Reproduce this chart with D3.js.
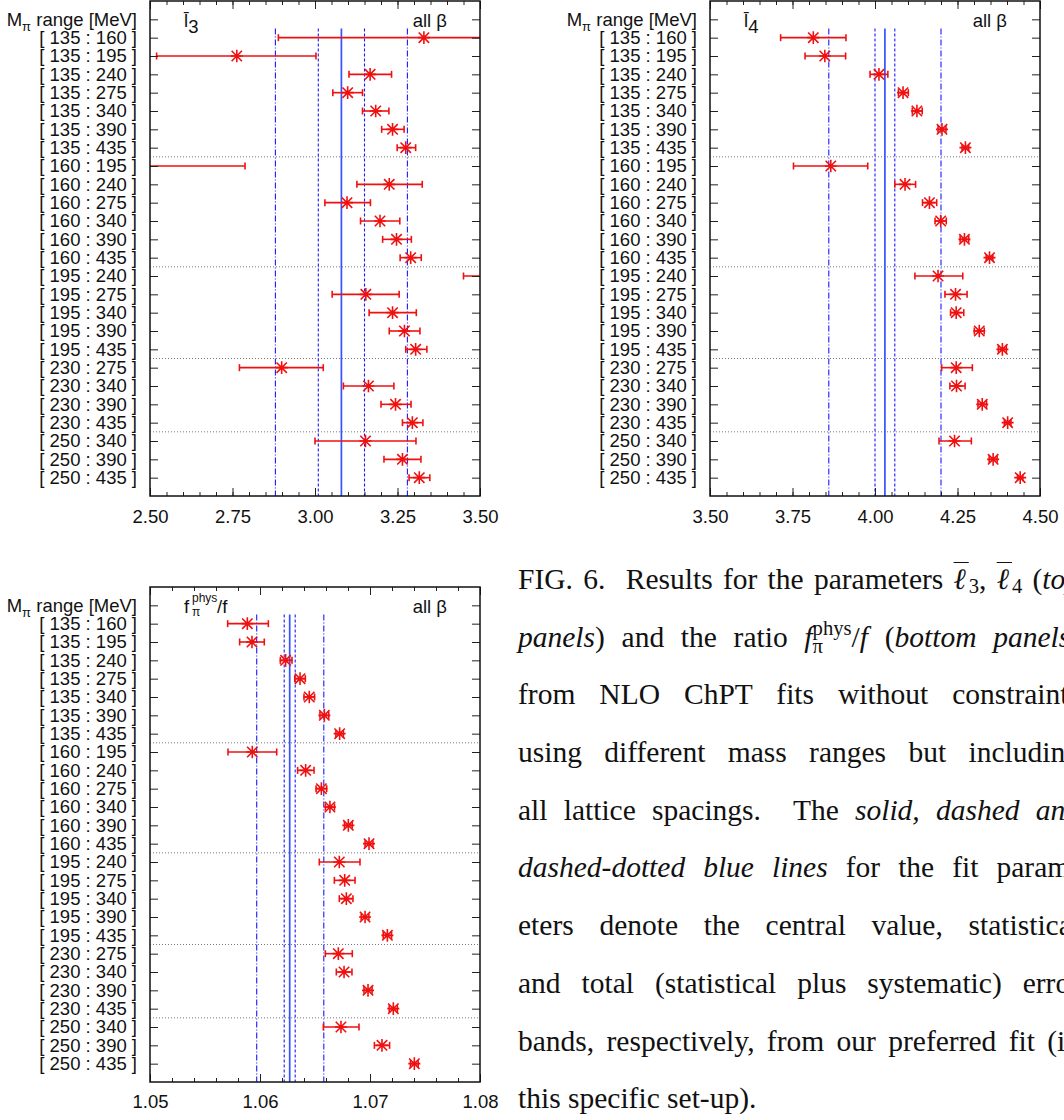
<!DOCTYPE html>
<html>
<head>
<meta charset="utf-8">
<script src="https://cdn.jsdelivr.net/npm/d3@7"></script>
<style>
  body { margin: 0; width: 1064px; height: 1120px; overflow: hidden; background: #fff; position: relative; }
  svg { position: absolute; left: 0; top: 0; }
  #caption { position: absolute; left: 518px; top: 551px; font-family: "Liberation Serif", serif; font-size: 29.5px; color: #111; }
  #caption .ln { width: 562px; height: 57.7px; line-height: 57.7px; text-align: justify; text-align-last: justify; }
  #caption .last { text-align: left; text-align-last: left; }
  .lb { text-decoration: overline; text-decoration-thickness: 1px; }
  .sb { font-size: 0.7em; vertical-align: -0.2em; line-height: 1; }
  .up { font-size: 0.7em; vertical-align: 0.58em; line-height: 1; }
  .dn { display: inline-block; width: 0; font-size: 0.7em; vertical-align: -0.32em; line-height: 1; }
</style>
</head>
<body>
<div id="caption"></div>
<script>
// row labels (pion mass ranges used in the fits)
const ranges = [
  '[ 135 : 160 ]', '[ 135 : 195 ]', '[ 135 : 240 ]', '[ 135 : 275 ]', '[ 135 : 340 ]', '[ 135 : 390 ]', '[ 135 : 435 ]',
  '[ 160 : 195 ]', '[ 160 : 240 ]', '[ 160 : 275 ]', '[ 160 : 340 ]', '[ 160 : 390 ]', '[ 160 : 435 ]',
  '[ 195 : 240 ]', '[ 195 : 275 ]', '[ 195 : 340 ]', '[ 195 : 390 ]', '[ 195 : 435 ]',
  '[ 230 : 275 ]', '[ 230 : 340 ]', '[ 230 : 390 ]', '[ 230 : 435 ]',
  '[ 250 : 340 ]', '[ 250 : 390 ]', '[ 250 : 435 ]'
];

// l3 bar
const l3Val = [3.330, 2.763, 3.167, 3.099, 3.184, 3.235, 3.275, 2.200, 3.225, 3.097, 3.197, 3.247, 3.290,
               3.700, 3.154, 3.235, 3.271, 3.305, 2.899, 3.162, 3.244, 3.295, 3.153, 3.265, 3.316];
const l3Lo  = [2.889, 2.520, 3.103, 3.054, 3.144, 3.202, 3.249, 1.610, 3.127, 3.030, 3.138, 3.205, 3.258,
               3.450, 3.052, 3.164, 3.225, 3.275, 2.771, 3.086, 3.200, 3.265, 3.000, 3.209, 3.285];
const l3Hi  = [3.770, 3.003, 3.232, 3.144, 3.224, 3.270, 3.305, 2.788, 3.325, 3.168, 3.257, 3.292, 3.322,
               3.950, 3.255, 3.307, 3.318, 3.339, 3.025, 3.239, 3.291, 3.327, 3.306, 3.321, 3.348];
// central, stat lo, stat hi, total lo, total hi
const l3Fit = [3.08, 3.01, 3.15, 2.88, 3.28];
const l3Ticks = [2.50, 2.75, 3.00, 3.25, 3.50];

// l4 bar
const l4Val = [3.813, 3.848, 4.012, 4.085, 4.127, 4.203, 4.274, 3.866, 4.091, 4.165, 4.199, 4.271, 4.347,
               4.191, 4.244, 4.246, 4.316, 4.386, 4.246, 4.247, 4.325, 4.402, 4.241, 4.358, 4.440];
const l4Lo  = [3.714, 3.788, 3.985, 4.071, 4.113, 4.191, 4.264, 3.753, 4.060, 4.144, 4.182, 4.258, 4.337,
               4.121, 4.212, 4.229, 4.301, 4.374, 4.202, 4.227, 4.312, 4.392, 4.194, 4.346, 4.432];
const l4Hi  = [3.912, 3.911, 4.039, 4.101, 4.143, 4.215, 4.284, 3.978, 4.123, 4.187, 4.216, 4.284, 4.357,
               4.266, 4.279, 4.269, 4.331, 4.398, 4.295, 4.273, 4.338, 4.412, 4.292, 4.370, 4.448];
const l4Fit = [4.03, 4.00, 4.06, 3.86, 4.20];
const l4Ticks = [3.50, 3.75, 4.00, 4.25, 4.50];

// f_pi^phys / f
const fVal = [1.05885, 1.05927, 1.06233, 1.06364, 1.06448, 1.06585, 1.06724, 1.05930, 1.06415, 1.06558, 1.06636, 1.06803, 1.06991,
              1.06721, 1.06770, 1.06785, 1.06955, 1.07158, 1.06712, 1.06764, 1.06982, 1.07212, 1.06736, 1.07109, 1.07403];
const fLo  = [1.05706, 1.05815, 1.06185, 1.06316, 1.06400, 1.06545, 1.06690, 1.05709, 1.06342, 1.06510, 1.06595, 1.06768, 1.06955,
              1.06539, 1.06676, 1.06721, 1.06920, 1.07120, 1.06594, 1.06694, 1.06945, 1.07175, 1.06576, 1.07040, 1.07368];
const fHi  = [1.06076, 1.06039, 1.06291, 1.06412, 1.06496, 1.06625, 1.06758, 1.06152, 1.06491, 1.06606, 1.06677, 1.06838, 1.07027,
              1.06909, 1.06864, 1.06845, 1.06990, 1.07196, 1.06839, 1.06836, 1.07019, 1.07249, 1.06900, 1.07178, 1.07438];
const fFit = [1.0627, 1.0622, 1.0632, 1.0597, 1.0658];
const fTicks = [1.05, 1.06, 1.07, 1.08];

const W = 330, H = 495, font = '"Liberation Sans", Arial, sans-serif', fs = 18.5;
const nUnits = ranges.length + 2;

const svg = d3.select('body').append('svg')
  .attr('width', 1064)
  .attr('height', 1120);

// dotted lines between groups with a different lower mass bound
const seps = [];
ranges.forEach((r, i) => {
  if (i > 0 && r.slice(2, 5) !== ranges[i - 1].slice(2, 5)) seps.push(i + 1.5);
});

const star = 'M-6,0H6M0,-6.3V6.3M-5.2,-5.2L5.2,5.2M-5.2,5.2L5.2,-5.2';
const fitStyle = [
  { dash: null, w: 1.7, c: '#3552ff' },
  { dash: '3,2', w: 1.1, c: '#1a1aff' },
  { dash: '3,2', w: 1.1, c: '#1a1aff' },
  { dash: '6,2,1,2', w: 1.1, c: '#1a1aff' },
  { dash: '6,2,1,2', w: 1.1, c: '#1a1aff' }
];

function drawPanel(p) {
  const x = d3.scaleLinear().domain(p.domain).range([p.left, p.left + W]);
  const y = d3.scaleLinear().domain([0, nUnits]).range([p.top, p.top + H]);
  const g = svg.append('g').attr('font-family', font);

  svg.append('clipPath').attr('id', 'clip-' + p.id)
    .append('rect')
    .attr('x', p.left).attr('y', p.top).attr('width', W).attr('height', H);
  const plot = g.append('g').attr('clip-path', `url(#clip-${p.id})`);

  plot.selectAll('.sep').data(seps).enter().append('line')
    .attr('x1', p.left).attr('x2', p.left + W)
    .attr('y1', d => y(d)).attr('y2', d => y(d))
    .attr('stroke', '#777').attr('stroke-width', 1).attr('stroke-dasharray', '1,2');

  plot.selectAll('.fit').data(p.fit).enter().append('line')
    .attr('x1', d => x(d)).attr('x2', d => x(d))
    .attr('y1', y(1.5)).attr('y2', y(nUnits))
    .attr('stroke', (d, i) => fitStyle[i].c)
    .attr('stroke-width', (d, i) => fitStyle[i].w)
    .attr('stroke-dasharray', (d, i) => fitStyle[i].dash);

  const pts = p.val.map((v, i) => ({ v: v, lo: p.lo[i], hi: p.hi[i], row: i + 2 }));
  const red = '#f01010';

  plot.selectAll('.bar').data(pts).enter().append('line')
    .attr('x1', d => x(d.lo)).attr('x2', d => x(d.hi))
    .attr('y1', d => y(d.row)).attr('y2', d => y(d.row))
    .attr('stroke', red).attr('stroke-width', 1.6);
  ['lo', 'hi'].forEach(k => {
    plot.selectAll('.cap-' + k).data(pts).enter().append('line')
      .attr('x1', d => x(d[k])).attr('x2', d => x(d[k]))
      .attr('y1', d => y(d.row) - 3.5).attr('y2', d => y(d.row) + 3.5)
      .attr('stroke', red).attr('stroke-width', 1.6);
  });
  plot.selectAll('.star').data(pts).enter().append('path')
    .attr('d', star)
    .attr('transform', d => `translate(${x(d.v)},${y(d.row)})`)
    .attr('fill', 'none').attr('stroke', red).attr('stroke-width', 1.6);

  // axes, ticks inward
  const bottom = p.top + H;
  const minor = d3.range(Math.round((p.domain[1] - p.domain[0]) / p.minor) + 1).map(i => p.domain[0] + i * p.minor);

  g.append('g').attr('transform', `translate(0,${bottom})`)
    .call(d3.axisBottom(x).tickValues(p.ticks).tickFormat(p.fmt).tickSize(-8).tickPadding(p.pad));
  g.append('g').attr('transform', `translate(0,${bottom})`)
    .call(d3.axisBottom(x).tickValues(minor).tickFormat('').tickSize(-4));
  g.append('g').attr('transform', `translate(0,${p.top})`)
    .call(d3.axisTop(x).tickValues(p.ticks).tickFormat('').tickSize(-8));
  g.append('g').attr('transform', `translate(0,${p.top})`)
    .call(d3.axisTop(x).tickValues(minor).tickFormat('').tickSize(-4));

  const yl = g.append('g').attr('transform', `translate(${p.left},0)`)
    .call(d3.axisLeft(y).tickValues(d3.range(1, nUnits)).tickSize(-8).tickPadding(13)
      .tickFormat(d => d === 1 ? '' : ranges[d - 2]));
  g.append('g').attr('transform', `translate(${p.left + W},0)`)
    .call(d3.axisRight(y).tickValues(d3.range(1, nUnits)).tickSize(-8).tickFormat(''));

  g.selectAll('.domain').remove();
  g.selectAll('.tick line').attr('stroke', '#222');
  g.selectAll('.tick text').attr('font-size', fs).attr('font-family', font).attr('fill', '#111');

  // header label on the first tick
  const head = yl.selectAll('.tick').filter(d => d === 1).select('text');
  head.append('tspan').text('M');
  head.append('tspan').text('π').attr('font-size', 13).attr('dy', 5);
  head.append('tspan').text(' range [MeV]').attr('dy', -5);

  g.append('rect')
    .attr('x', p.left).attr('y', p.top).attr('width', W).attr('height', H)
    .attr('fill', 'none').attr('stroke', '#111').attr('stroke-width', 1.5);

  // panel labels
  const t = g.append('text').attr('x', p.left + 34).attr('y', y(1) + 8)
    .attr('font-size', fs).attr('fill', '#111');
  p.title(t);
  g.append('text').attr('x', p.left + W - 33).attr('y', y(1) + 8)
    .attr('text-anchor', 'end').attr('font-size', fs).attr('fill', '#111')
    .text('all β');
}

drawPanel({
  id: 'l3', left: 150, top: 1, domain: [2.5, 3.5], minor: 0.05, ticks: l3Ticks, fmt: d3.format('.2f'), pad: 14,
  val: l3Val, lo: l3Lo, hi: l3Hi, fit: l3Fit,
  title: t => { t.append('tspan').text('l\u0304'); t.append('tspan').text('3').attr('dy', 6); }
});
drawPanel({
  id: 'l4', left: 710, top: 1, domain: [3.5, 4.5], minor: 0.05, ticks: l4Ticks, fmt: d3.format('.2f'), pad: 14,
  val: l4Val, lo: l4Lo, hi: l4Hi, fit: l4Fit,
  title: t => { t.append('tspan').text('l\u0304'); t.append('tspan').text('4').attr('dy', 6); }
});
drawPanel({
  id: 'fpi', left: 150, top: 587, domain: [1.05, 1.08], minor: 0.002, ticks: fTicks, fmt: d3.format('.2f'), pad: 13,
  val: fVal, lo: fLo, hi: fHi, fit: fFit,
  title: t => {
    t.append('tspan').text('f');
    t.append('tspan').text('phys').attr('font-size', 12).attr('x', 192).attr('dy', -11);
    t.append('tspan').text('π').attr('font-size', 12).attr('x', 192).attr('dy', 14);
    t.append('tspan').text('/f').attr('x', 217).attr('dy', -3);
  }
});

// caption
const caption = [
  'FIG. 6.&nbsp; Results for the parameters <span class="lb"><i>ℓ</i></span><span class="sb">3</span>, <span class="lb"><i>ℓ</i></span><span class="sb">4</span> (<i>top</i>',
  '<i>panels</i>) and the ratio <i>f</i><span class="dn">π</span><span class="up">phys</span>/<i>f</i> (<i>bottom panels</i>)',
  'from NLO ChPT fits without constraints',
  'using different mass ranges but including',
  'all lattice spacings.&nbsp; The <i>solid, dashed and</i>',
  '<i>dashed-dotted blue lines</i> for the fit param-',
  'eters denote the central value, statistical',
  'and total (statistical plus systematic) error',
  'bands, respectively, from our preferred fit (in',
  'this specific set-up).'
];
d3.select('#caption').selectAll('div').data(caption).enter().append('div')
  .attr('class', (d, i) => i === caption.length - 1 ? 'ln last' : 'ln')
  .html(d => d);
</script>
</body>
</html>
